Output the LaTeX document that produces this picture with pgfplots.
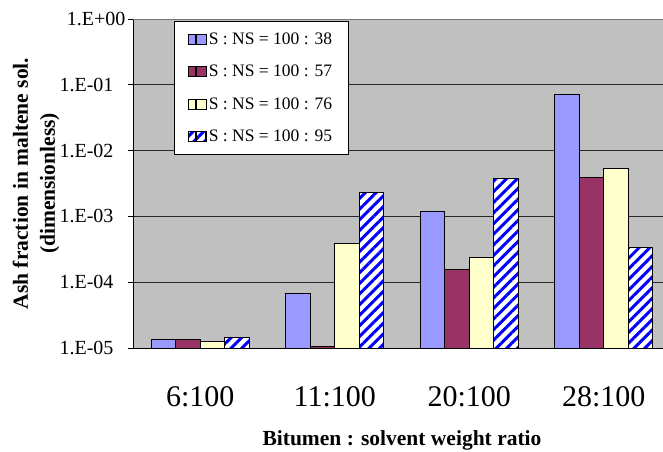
\documentclass[border=0pt]{standalone}
\usepackage{pgfplots}
\pgfplotsset{compat=1.18}
\usepackage{fontspec}
\setmainfont{Liberation Serif}
\usetikzlibrary{patterns.meta}
\definecolor{cblue}{RGB}{153,153,255}
\definecolor{cmaroon}{RGB}{153,51,102}
\definecolor{cyellow}{RGB}{255,255,204}
\definecolor{chatch}{RGB}{0,0,255}
\definecolor{cback}{RGB}{192,192,192}
\pgfplotsset{
  sqlegend/.style={legend image code/.code={\path (0bp,-5bp) rectangle (7bp,5bp);\draw[##1, line width=0.8bp] (7bp,-5bp) rectangle (17bp,5bp);}},
  hatched/.style={preaction={fill=white}, pattern={Lines[angle=45,distance=7.5bp,line width=3bp]}, pattern color=chatch}
}
\begin{document}
\begin{tikzpicture}
\useasboundingbox (0,0) rectangle (663bp,452bp);
\begin{scope}
\clip (0,0) rectangle (663bp,452bp);
\begin{axis}[
  at={(133bp,104bp)}, anchor=south west,
  scale only axis, width=538bp, height=329bp,
  ymode=log, ymin=1e-5, ymax=1, log origin=infty,
  xmin=-0.5, xmax=3.5,
  ybar, bar width=24.45bp,
  axis background/.style={fill=cback},
  axis x line*=bottom, axis y line*=left,
  axis line style={black, line width=1bp},
  ymajorgrids, grid style={black!85, line width=1bp},
  yminorticks=false,
  ytick={1e-5,1e-4,1e-3,1e-2,1e-1},
  yticklabels={1.E-05,1.E-04,1.E-03,1.E-02,1.E-01},
  extra y ticks={1},
  extra y tick labels={1.E+00},
  extra y tick style={grid=major, grid style={black!55, line width=1bp}, yticklabel style={xshift=12bp}},
  xtick={0,1,2,3},
  xticklabels={6:100,11:100,20:100,28:100},
  minor xtick={0.5,1.5,2.5},
  tick align=outside,
  major tick length=5bp, minor tick length=8bp,
  xtick style={draw=none},
  minor x tick style={black, line width=1bp},
  ytick style={black, line width=1bp},
  xticklabel style={font=\fontsize{30bp}{36bp}\selectfont, yshift=-30bp},
  yticklabel style={font=\fontsize{20bp}{24bp}\selectfont, xshift=-11bp},
  xlabel={Bitumen : solvent weight ratio},
  xlabel style={at={(axis description cs:0.5,0)}, anchor=base, yshift=-97bp, font=\bfseries\fontsize{21.5bp}{26bp}\selectfont},
  ylabel={Ash fraction in maltene sol.\\(dimensionless)},
  ylabel style={at={(axis description cs:-0.180,0.5)}, anchor=center, align=center, font=\bfseries\fontsize{21.5bp}{27bp}\selectfont},
  legend style={at={(rel axis cs:0.0762,0.9939)}, anchor=north west, draw=black, line width=1bp, fill=white,
    font=\fontsize{17.5bp}{22bp}\selectfont, legend cell align=left,
    nodes={text height=13bp, text depth=3bp, inner ysep=2bp, inner xsep=2.5bp},
    row sep=12.3bp, inner ysep=8bp, inner xsep=14bp},
]
\addplot[sqlegend, fill=cblue, draw=black, line width=1bp, bar shift=-36.68bp] coordinates {(0,1.33e-5) (1,6.68e-5) (2,1.17e-3) (3,7.14e-2)};
\addplot[sqlegend, fill=cmaroon, draw=black, line width=1bp, bar shift=-12.23bp] coordinates {(0,1.33e-5) (1,1.05e-5) (2,1.55e-4) (3,3.9e-3)};
\addplot[sqlegend, fill=cyellow, draw=black, line width=1bp, bar shift=12.23bp] coordinates {(0,1.27e-5) (1,3.94e-4) (2,2.41e-4) (3,5.34e-3)};
\addplot[sqlegend, hatched, draw=black, line width=1bp, bar shift=36.68bp] coordinates {(0,1.43e-5) (1,2.30e-3) (2,3.76e-3) (3,3.42e-4)};
\legend{S : NS = 100 : 38, S : NS = 100 : 57, S : NS = 100 : 76, S : NS = 100 : 95}
\end{axis}
\end{scope}
\end{tikzpicture}
\end{document}
